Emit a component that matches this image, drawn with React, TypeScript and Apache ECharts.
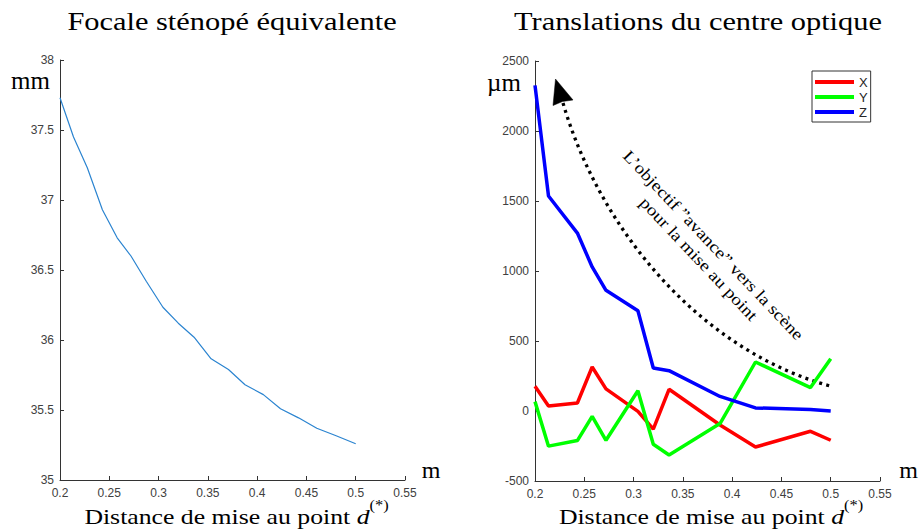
import React, { useEffect, useRef } from "react";
import * as echarts from "echarts";

// ---- data ----
const focusLeft = [0.2, 0.2137, 0.2277, 0.243, 0.258, 0.272, 0.2875, 0.3044, 0.32, 0.336, 0.3533, 0.3709, 0.3877, 0.4063, 0.4237, 0.442, 0.4605, 0.4795, 0.5];
const focalMm = [37.73, 37.45, 37.23, 36.93, 36.73, 36.6, 36.42, 36.234, 36.12, 36.02, 35.866, 35.789, 35.68, 35.61, 35.509, 35.444, 35.37, 35.318, 35.259];

const focusRight = [0.2, 0.2137, 0.243, 0.258, 0.272, 0.3044, 0.32, 0.336, 0.3877, 0.4237, 0.4795, 0.5];
const transX = [176, 36, 57, 314, 158, -3, -130, 155, -100, -257, -145, -209];
const transY = [67, -251, -211, -38, -209, 145, -238, -314, -90, 350, 167, 374];
const transZ = [2326, 1536, 1271, 1029, 862, 716, 307, 288, 104, 22, 10, 0];

const seriesNames = ["X", "Y", "Z"];
const seriesValues = [transX, transY, transZ];
const seriesColors = ["#ff0000", "#00ff00", "#0000ff"];

const leftTitle = "Focale sténopé équivalente";
const rightTitle = "Translations du centre optique";
const xName = "Distance de mise au point ";
const annotation = "L\u2019objectif \u201davance\u201d vers la scène\npour la mise au point";

const SERIF = "'Liberation Serif', 'Times New Roman', serif";
const SANS = "'Liberation Sans', Arial, sans-serif";
const AX = "#333333";
const SX = 1.17;

const fmt = (v: number) => String(Math.round(v * 100) / 100);

function xAxis(gridIndex: number) {
  return {
    type: "value",
    gridIndex,
    min: 0.2,
    max: 0.55,
    interval: 0.05,
    axisLine: { show: true, onZero: false, lineStyle: { color: AX, width: 1 } },
    axisTick: { show: true, inside: true, length: 4, lineStyle: { color: AX } },
    axisLabel: { color: "#404040", fontSize: 12, fontFamily: SANS, margin: 7, formatter: fmt },
    splitLine: { show: false },
  };
}

function yAxis(gridIndex: number, min: number, max: number, interval: number) {
  return {
    type: "value",
    gridIndex,
    min,
    max,
    interval,
    axisLine: { show: true, onZero: false, lineStyle: { color: AX, width: 1 } },
    axisTick: { show: true, inside: true, length: 4, lineStyle: { color: AX } },
    axisLabel: { color: "#404040", fontSize: 12, fontFamily: SANS, margin: 6, formatter: fmt },
    splitLine: { show: false },
  };
}

function serifText(text: string, x: number, y: number, fontSize: number, scaleX = 1, extra: any = {}) {
  return {
    type: "text",
    x,
    y,
    scaleX,
    silent: true,
    style: {
      text,
      fontFamily: SERIF,
      fontSize,
      fill: "#000",
      align: "center",
      verticalAlign: "middle",
      textAlign: "center",
      textVerticalAlign: "middle",
      ...extra,
    },
  };
}

function axisName(x: number) {
  const rich = {
    a: { fontFamily: SERIF, fontSize: 22, lineHeight: 38, fill: "#000" },
    d: { fontFamily: SERIF, fontSize: 22, lineHeight: 38, fontStyle: "italic", fill: "#000" },
    s: { fontFamily: SERIF, fontSize: 14, lineHeight: 14, verticalAlign: "top", fill: "#000" },
  };
  return serifText("{a|" + xName + "}{d|d}{s|(*)}", x, 517, 22, SX, { rich });
}

export default function App() {
  const ref = useRef<HTMLDivElement>(null);

  useEffect(() => {
    document.body.style.margin = "0";
    if (!ref.current) return;
    const chart = echarts.init(ref.current, undefined, { renderer: "svg" });

    const option: any = {
      animation: false,
      backgroundColor: "#ffffff",
      grid: [
        { left: 60, top: 60, width: 345, height: 420 },
        { left: 535, top: 61, width: 345, height: 420 },
      ],
      xAxis: [xAxis(0), xAxis(1)],
      yAxis: [yAxis(0, 35, 38, 0.5), yAxis(1, -500, 2500, 500)],
      legend: {
        data: seriesNames,
        orient: "vertical",
        left: 812,
        top: 71,
        padding: [4, 3, 3, 3],
        itemGap: 1,
        itemWidth: 39,
        itemHeight: 4,
        icon: "rect",
        backgroundColor: "#ffffff",
        borderColor: "#333333",
        borderWidth: 1,
        borderRadius: 0,
        selectedMode: false,
        textStyle: { fontFamily: SANS, fontSize: 13, lineHeight: 14, color: "#262626" },
      },
      series: [
        {
          type: "line",
          xAxisIndex: 0,
          yAxisIndex: 0,
          data: focusLeft.map((x, i) => [x, focalMm[i]]),
          showSymbol: false,
          symbol: "none",
          silent: true,
          lineStyle: { color: "#2b84d0", width: 1.2 },
        },
        ...seriesNames.map((name, k) => ({
          name,
          type: "line",
          xAxisIndex: 1,
          yAxisIndex: 1,
          data: focusRight.map((x, i) => [x, seriesValues[k][i]]),
          showSymbol: false,
          symbol: "none",
          silent: true,
          lineStyle: { color: seriesColors[k], width: 3.5 },
          itemStyle: { color: seriesColors[k] },
        })),
      ],
      graphic: [
        serifText(leftTitle, 232, 21, 26, SX),
        serifText(rightTitle, 698, 21, 26, SX),
        axisName(236.5),
        axisName(711),
        serifText("mm", 30.5, 80, 25),
        serifText("\u00b5m", 504, 82, 25),
        serifText("m", 431, 470, 24),
        serifText("m", 908.5, 470, 24),
        {
          type: "bezierCurve",
          silent: true,
          shape: { x1: 563, y1: 103, cpx1: 600, cpy1: 230, cpx2: 700, cpy2: 350, x2: 830, y2: 386 },
          style: { stroke: "#000", lineWidth: 3.3, lineDash: [3, 4.3], fill: null },
        },
        {
          type: "polygon",
          silent: true,
          shape: { points: [[555.5, 79], [553, 105.5], [562.5, 101.5], [573, 100]] },
          style: { fill: "#000", stroke: "#000", lineWidth: 0.5 },
        },
        {
          type: "text",
          x: 706,
          y: 252,
          rotation: (-46.6 * Math.PI) / 180,
          scaleX: SX,
          silent: true,
          style: {
            text: annotation,
            fontFamily: SERIF,
            fontSize: 16.5,
            lineHeight: 20,
            fill: "#000",
            align: "center",
            verticalAlign: "middle",
            textAlign: "center",
            textVerticalAlign: "middle",
          },
        },
      ],
    };

    chart.setOption(option);
    return () => chart.dispose();
  }, []);

  return <div ref={ref} style={{ width: 921, height: 530 }} />;
}
